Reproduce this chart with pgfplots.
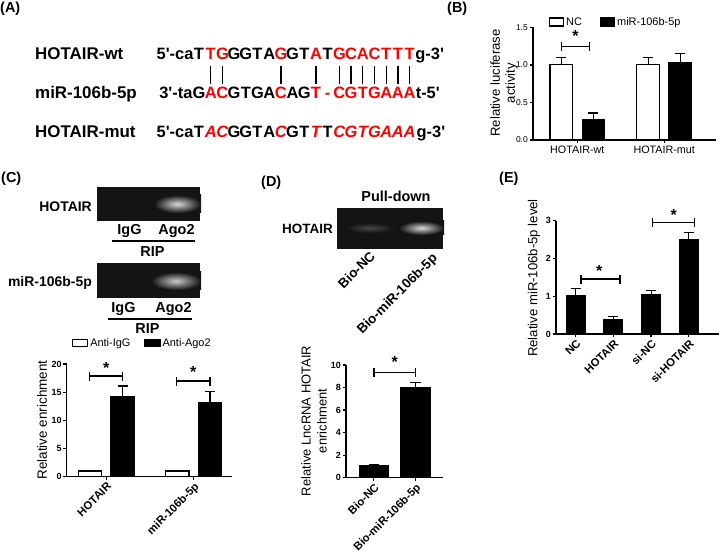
\documentclass[border=0pt]{standalone}
\usepackage{pgfplots}
\pgfplotsset{compat=1.18}
\usepackage{fontspec}
\setmainfont{Liberation Sans}
\newcommand{\fs}[1]{\fontsize{#1}{#1}\selectfont}
\newcommand{\q}{\textquotesingle}
\definecolor{seqred}{RGB}{255,0,0}
\definecolor{gel}{RGB}{20,20,20}
\pgfplotsset{
 gp/.style={scale only axis, clip=false, anchor=south west,
   axis x line*=bottom, axis y line*=left,
   axis line style={line width=1.3bp,black},
   tick style={line width=1.3bp,black},
   tick align=outside, major tick length=3.5bp,
   ymin=0,
   /pgf/number format/assume math mode=true,
   yticklabel style={font=\bfseries\fs{9},inner sep=1.5bp},
 },
 rotx/.style={xticklabel style={font=\bfseries\fs{11.3},rotate=45,anchor=north east,inner sep=0.8bp}},
 errb/.style={error bars/.cd, y dir=plus, y explicit, error bar style={line width=1.2bp,black}, error mark options={rotate=90,line width=1.2bp,mark size=5bp,black}},
}
\newcommand{\brk}[5]{%
 \draw[line width=1.2bp] (axis cs:#1,#3) -- (axis cs:#2,#3);
 \draw[line width=1.2bp] ([yshift=-4.5bp]axis cs:#1,#3) -- ([yshift=4.5bp]axis cs:#1,#3);
 \draw[line width=1.2bp] ([yshift=-4.5bp]axis cs:#2,#3) -- ([yshift=4.5bp]axis cs:#2,#3);
 \node[font=\bfseries\fs{16},inner sep=0] at (axis cs:#4,#5) {*};}
\begin{document}
\begin{tikzpicture}
\path[use as bounding box] (0,0) rectangle (720bp,553bp);
\begin{scope}[x=1bp,y=-1bp,yshift=553bp]
 % panel labels
 \node[anchor=north west,inner sep=0,font=\bfseries\fs{14.5}] at (0,1.5) {(A)};
 \node[anchor=north west,inner sep=0,font=\bfseries\fs{14.5}] at (447,1.5) {(B)};
 \node[anchor=north west,inner sep=0,font=\bfseries\fs{14.5}] at (1,172) {(C)};
 \node[anchor=north west,inner sep=0,font=\bfseries\fs{14.5}] at (261,176) {(D)};
 \node[anchor=north west,inner sep=0,font=\bfseries\fs{14.5}] at (499,172) {(E)};
 % panel A
 \node[anchor=base west,inner sep=0,font=\bfseries\fs{17}] at (35,59.5) {HOTAIR-wt};
 \node[anchor=base west,inner sep=0,font=\bfseries\fs{17}] at (35,98.3) {miR-106b-5p};
 \node[anchor=base west,inner sep=0,font=\bfseries\fs{17}] at (35,137.3) {HOTAIR-mut};
 \node[anchor=base east,inner sep=0,font=\bfseries\fs{16.5}] at (193.7,59.5) {5\q-ca};
 \node[anchor=base west,inner sep=0,font=\bfseries\fs{16.5}] at (415.2,59.5) {g-3\q};
 \node[anchor=base east,inner sep=0,font=\bfseries\fs{16.5}] at (192.6,98.3) {3\q-ta};
 \node[anchor=base west,inner sep=0,font=\bfseries\fs{16.5}] at (415.6,98.3) {t-5\q};
 \node[anchor=base east,inner sep=0,font=\bfseries\fs{16.5}] at (193.7,137.3) {5\q-ca};
 \node[anchor=base west,inner sep=0,font=\bfseries\fs{16.5}] at (416.5,137.3) {g-3\q};
 \foreach \c/\col/\sh [count=\i] in {T/black/\upshape, T/seqred/\upshape, G/seqred/\upshape, G/black/\upshape, G/black/\upshape, T/black/\upshape, A/black/\upshape, G/seqred/\upshape, G/black/\upshape, T/black/\upshape, A/seqred/\upshape, T/black/\upshape, G/seqred/\upshape, C/seqred/\upshape, A/seqred/\upshape, C/seqred/\upshape, T/seqred/\upshape, T/seqred/\upshape, T/seqred/\upshape}
   \node[anchor=base,inner sep=0,text=\col,font=\bfseries\sh\fs{16.5}] at ({199+(\i-1)*11.7},59.5) {\c};
 \foreach \c/\col/\sh [count=\i] in {G/black/\upshape, A/seqred/\upshape, C/seqred/\upshape, G/black/\upshape, T/black/\upshape, G/black/\upshape, A/black/\upshape, C/seqred/\upshape, A/black/\upshape, G/black/\upshape, T/seqred/\upshape, -/seqred/\upshape, C/seqred/\upshape, G/seqred/\upshape, T/seqred/\upshape, G/seqred/\upshape, A/seqred/\upshape, A/seqred/\upshape, A/seqred/\upshape}
   \node[anchor=base,inner sep=0,text=\col,font=\bfseries\sh\fs{16.5}] at ({199+(\i-1)*11.7},98.3) {\c};
 \foreach \c/\col/\sh [count=\i] in {T/black/\upshape, A/seqred/\itshape, C/seqred/\itshape, G/black/\upshape, G/black/\upshape, T/black/\upshape, A/black/\upshape, C/seqred/\itshape, G/black/\upshape, T/black/\upshape, T/seqred/\itshape, T/black/\upshape, C/seqred/\itshape, G/seqred/\itshape, T/seqred/\itshape, G/seqred/\itshape, A/seqred/\itshape, A/seqred/\itshape, A/seqred/\itshape}
   \node[anchor=base,inner sep=0,text=\col,font=\bfseries\sh\fs{16.5}] at ({199+(\i-1)*11.7},137.3) {\c};
 \foreach \i in {2,3,8,11,13,14,15,16,17,18,19}
   \draw[line width=1.3bp] ({199+(\i-1)*11.7},66) -- ({199+(\i-1)*11.7},84);
 % panel C gels
 \fill[gel] (96.7,187.3) rectangle (200,221);
 \shade[inner color=white!85!black, outer color=gel] (154,195) rectangle (201,213);
 \fill[gel] (96.7,263) rectangle (200,298);
 \shade[inner color=white!80!black, outer color=gel] (151,272) rectangle (201,290);
 \node[anchor=east,inner sep=0,font=\bfseries\fs{14}] at (92,207) {HOTAIR};
 \node[inner sep=0,font=\bfseries\fs{14.5}] at (129.5,231) {IgG};
 \node[inner sep=0,font=\bfseries\fs{14.5}] at (176.5,231) {Ago2};
 \draw[line width=1.3bp] (112,241) -- (195,241);
 \node[inner sep=0,font=\bfseries\fs{14.5}] at (152.5,251.5) {RIP};
 \node[anchor=east,inner sep=0,font=\bfseries\fs{14}] at (92,282.5) {miR-106b-5p};
 \node[inner sep=0,font=\bfseries\fs{14.5}] at (123.5,308.5) {IgG};
 \node[inner sep=0,font=\bfseries\fs{14.5}] at (173.5,308.5) {Ago2};
 \draw[line width=1.3bp] (108,319) -- (192,319);
 \node[inner sep=0,font=\bfseries\fs{14.5}] at (147.5,328.5) {RIP};
 % panel D gel
 \node[inner sep=0,font=\bfseries\fs{14.5}] at (396,196) {Pull-down};
 \fill[gel] (337,208) rectangle (443,249);
 \shade[inner color=black!72, outer color=gel] (346,223) rectangle (394,233);
 \shade[inner color=white!85!black, outer color=gel] (399,221) rectangle (444,235);
 \node[anchor=east,inner sep=0,font=\bfseries\fs{13.5}] at (333,229) {HOTAIR};
 \node[anchor=north east,rotate=45,inner sep=0,font=\bfseries\fs{13.5}] at (369,250) {Bio-NC};
 \node[anchor=north east,rotate=45,inner sep=0,font=\bfseries\fs{13.5}] at (431,252) {Bio-miR-106b-5p};
 % y axis titles
 \node[rotate=90,align=center,inner sep=0,font=\fontsize{13.2}{15}\selectfont] at (504,83) {Relative luciferase\\activity};
 \node[rotate=90,inner sep=0,font=\fs{13.5}] at (42,420) {Relative enrichment};
 \node[rotate=90,align=center,inner sep=0,font=\fontsize{13}{16}\selectfont] at (314,421) {Relative LncRNA HOTAIR\\enrichment};
 \node[rotate=90,inner sep=0,font=\fs{13.2}] at (534,278) {Relative miR-106b-5p level};
\end{scope}

% ---------- panel B ----------
\begin{axis}[gp, at={(533bp,413bp)}, width=183bp, height=112.7bp,
  xmin=-0.51, xmax=1.596, ymax=1.5, ytick={0,0.5,1,1.5}, xtick={0,1},
  xticklabels={HOTAIR-wt,HOTAIR-mut},
  xticklabel style={anchor=north,font=\fs{10.8},inner sep=2bp},
  yticklabel style={font=\fs{8.5},/pgf/number format/fixed,/pgf/number format/fixed zerofill,/pgf/number format/precision=1},
  legend columns=2,
  legend style={at={(axis description cs:0.087,1.047)},anchor=west,draw=none,fill=none,font=\fs{11},inner sep=0pt,
    /tikz/every even column/.append style={column sep=16bp}}]
\addplot[ybar,bar width=22.5bp,bar shift=0bp,fill=white,draw=black,line width=1.2bp,
  legend image code/.code={\draw[fill=white,draw=black,line width=1.1bp] (0bp,-4bp) rectangle (14bp,4bp);},errb]
  coordinates {(-0.185,1.0) +- (0,0.10) (0.815,1.0) +- (0,0.10)};
\addlegendentry{NC}
\addplot[ybar,bar width=22.5bp,bar shift=0bp,fill=black,draw=black,line width=1.2bp,
  legend image code/.code={\draw[fill=black,draw=black,line width=1.1bp] (0bp,-4bp) rectangle (14bp,4bp);},errb]
  coordinates {(0.185,0.27) +- (0,0.09) (1.185,1.03) +- (0,0.12)};
\addlegendentry{miR-106b-5p}
\brk{-0.179}{0.139}{1.242}{-0.02}{1.38}
\end{axis}

% ---------- panel C chart ----------
\begin{axis}[gp, rotx, at={(66.7bp,76.3bp)}, width=165bp, height=112.7bp,
  xmin=-0.453, xmax=1.435, ymax=20, ytick={0,5,10,15,20}, xtick={0,1},
  xticklabels={HOTAIR,miR-106b-5p},
  legend columns=2,
  legend style={at={(axis description cs:0.032,1.186)},anchor=west,draw=none,fill=none,font=\fs{11},inner sep=0pt,
    /tikz/every even column/.append style={column sep=12bp}}]
\addplot[ybar,bar width=23.3bp,bar shift=0bp,fill=white,draw=black,line width=1.2bp,
  legend image code/.code={\draw[fill=white,draw=black,line width=1.1bp] (0bp,-3.5bp) rectangle (15bp,3.5bp);},errb]
  coordinates {(-0.1865,1.0) +- (0,0.12) (0.8135,1.0) +- (0,0.10)};
\addlegendentry{Anti-IgG}
\addplot[ybar,bar width=23.3bp,bar shift=0bp,fill=black,draw=black,line width=1.2bp,
  legend image code/.code={\draw[fill=black,draw=black,line width=1.1bp] (0bp,-3.5bp) rectangle (15bp,3.5bp);},errb]
  coordinates {(0.1865,14.2) +- (0,1.9) (1.1865,13.2) +- (0,1.85)};
\addlegendentry{Anti-Ago2}
\brk{-0.195}{0.188}{17.87}{0.0}{19.3}
\brk{0.805}{1.186}{16.98}{0.995}{18.5}
\end{axis}

% ---------- panel D chart ----------
\begin{axis}[gp, rotx, at={(346bp,75.3bp)}, width=97.3bp, height=112.7bp,
  xmin=-0.667, xmax=1.667, ymax=10, ytick={0,2,4,6,8,10}, xtick={0,1},
  xticklabels={Bio-NC,Bio-miR-106b-5p}]
\addplot[ybar,bar width=29bp,bar shift=0bp,fill=black,draw=black,line width=1.2bp,errb]
  coordinates {(0,1.06) +- (0,0.13) (1,8.02) +- (0,0.44)};
\brk{0.005}{1.0}{9.35}{0.5}{10.3}
\end{axis}

% ---------- panel E chart ----------
\begin{axis}[gp, rotx, at={(556bp,219bp)}, width=163.3bp, height=113.3bp,
  xmin=-0.526, xmax=3.81, ymax=3, ytick={0,1,2,3}, xtick={0,1,2,3},
  xticklabels={NC,HOTAIR,si-NC,si-HOTAIR}]
\addplot[ybar,bar width=18.8bp,bar shift=0bp,fill=black,draw=black,line width=1.2bp,errb]
  coordinates {(0,1.01) +- (0,0.20) (1,0.39) +- (0,0.07) (2,1.05) +- (0,0.10) (3,2.51) +- (0,0.17)};
\brk{0.138}{1.173}{1.456}{0.62}{1.67}
\brk{2.04}{3.15}{2.946}{2.6}{3.16}
\end{axis}
\end{tikzpicture}
\end{document}
